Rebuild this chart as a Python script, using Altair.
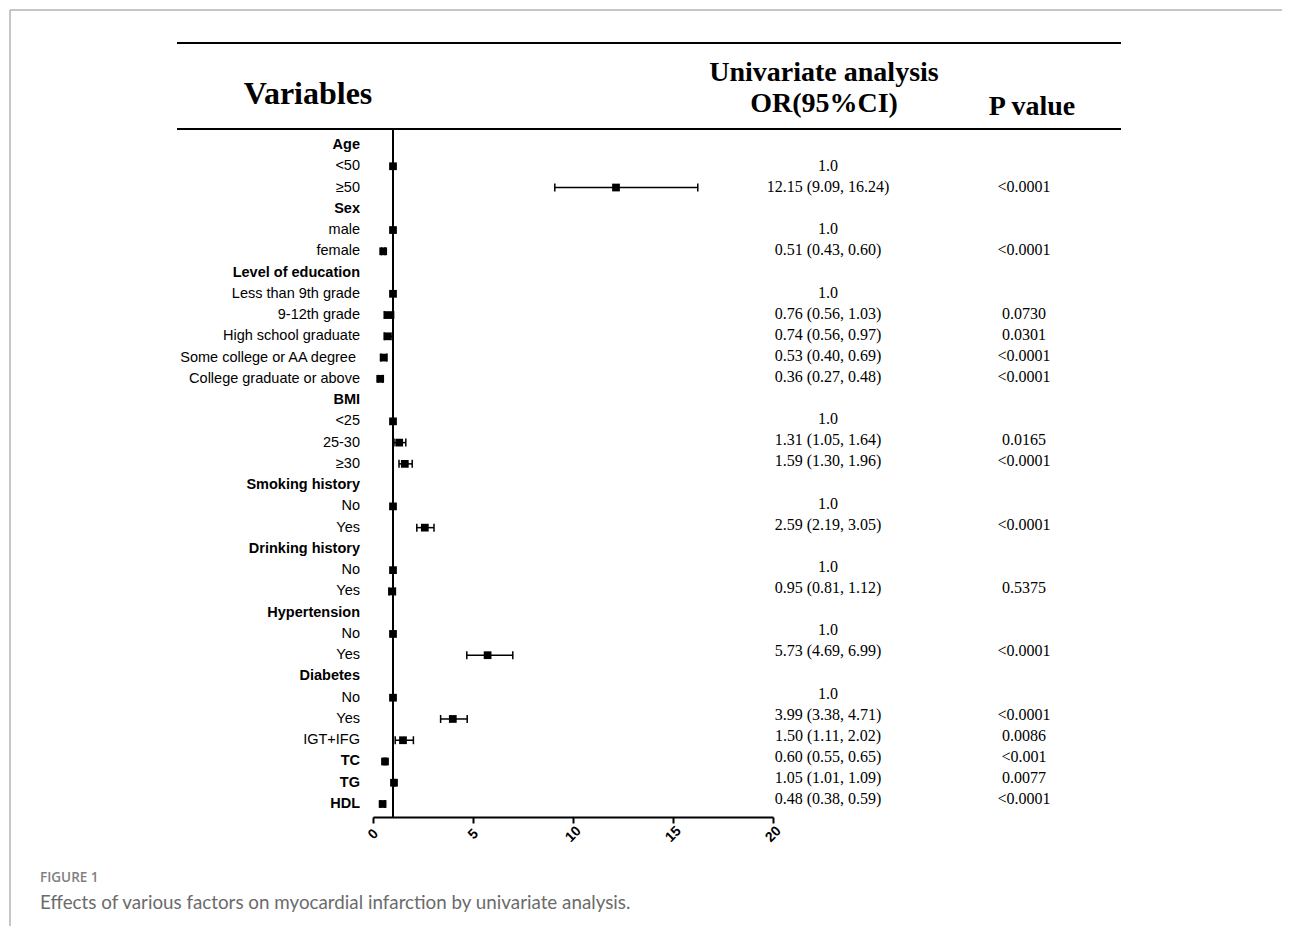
import altair as alt
import pandas as pd

# ---------------- data ----------------
labels = ["Age", "<50", "≥50", "Sex", "male", "female", "Level of education",
          "Less than 9th grade", "9-12th grade", "High school graduate",
          "Some college or AA degree", "College graduate or above",
          "BMI", "<25", "25-30", "≥30", "Smoking history", "No", "Yes",
          "Drinking history", "No", "Yes", "Hypertension", "No", "Yes",
          "Diabetes", "No", "Yes", "IGT+IFG", "TC", "TG", "HDL"]
label_shift = [0, 0, 0, 0, 0, 0, 0, 0, 0, 0, 4, 0, 0, 0, 0, 0, 0, 0, 0,
               0, 0, 0, 0, 0, 0, 0, 0, 0, 0, 0, 0, 0]
is_bold = [1, 0, 0, 1, 0, 0, 1, 0, 0, 0, 0, 0, 1, 0, 0, 0, 1, 0, 0,
           1, 0, 0, 1, 0, 0, 1, 0, 0, 0, 1, 1, 1]
or_val = [None, 1.0, 12.15, None, 1.0, 0.51, None, 1.0, 0.76, 0.74, 0.53, 0.36,
          None, 1.0, 1.31, 1.59, None, 1.0, 2.59, None, 1.0, 0.95, None, 1.0, 5.73,
          None, 1.0, 3.99, 1.50, 0.60, 1.05, 0.48]
ci_lo = [None, None, 9.09, None, None, 0.43, None, None, 0.56, 0.56, 0.40, 0.27,
         None, None, 1.05, 1.30, None, None, 2.19, None, None, 0.81, None, None, 4.69,
         None, None, 3.38, 1.11, 0.55, 1.01, 0.38]
ci_hi = [None, None, 16.24, None, None, 0.60, None, None, 1.03, 0.97, 0.69, 0.48,
         None, None, 1.64, 1.96, None, None, 3.05, None, None, 1.12, None, None, 6.99,
         None, None, 4.71, 2.02, 0.65, 1.09, 0.59]
p_text = ["", "", "<0.0001", "", "", "<0.0001", "", "", "0.0730", "0.0301",
          "<0.0001", "<0.0001", "", "", "0.0165", "<0.0001", "", "", "<0.0001",
          "", "", "0.5375", "", "", "<0.0001", "", "", "<0.0001", "0.0086",
          "<0.001", "0.0077", "<0.0001"]
x_ticks = [0, 5, 10, 15, 20]


def fmt(v, lo, hi):
    if v is None:
        return ""
    if lo is None:
        return f"{v:.1f}"
    return f"{v:.2f} ({lo:.2f}, {hi:.2f})"


or_text = [fmt(v, l, h) for v, l, h in zip(or_val, ci_lo, ci_hi)]

df = pd.DataFrame({
    "row": list(range(len(labels))),
    "label": labels,
    "shift": label_shift,
    "bold": is_bold,
    "or": or_val,
    "lo": ci_lo,
    "hi": ci_hi,
    "or_text": or_text,
    "p_text": p_text,
})

# ---------------- scales ----------------
xscale = alt.Scale(domain=[0, 20], range=[365, 765], nice=False, zero=False)
xaxis = alt.Axis(values=x_ticks, labelAngle=-45, labelAlign="center",
                 labelBaseline="middle", labelPadding=11, title=None, grid=False,
                 domainColor="black", domainWidth=2, tickColor="black",
                 tickWidth=2, tickSize=6, labelFont="Liberation Sans",
                 labelFontWeight="bold", labelFontSize=14, labelColor="black")
yscale = alt.Scale(domain=[0, 31], range=[137, 796], nice=False, zero=False)
yscale_txt = alt.Scale(domain=[0, 31], range=[137, 791], nice=False, zero=False)

base = alt.Chart(df)
one = alt.Data(values=[{}])

# frame lines
frame_top = alt.Chart(one).mark_rule(color="#b3b3b3", strokeWidth=1.5).encode(
    x=alt.value(2), x2=alt.value(1290), y=alt.value(2))
frame_left = alt.Chart(one).mark_rule(color="#b3b3b3", strokeWidth=1.5).encode(
    x=alt.value(2), y=alt.value(2), y2=alt.value(930))

# header lines
hline1 = alt.Chart(one).mark_rule(color="black", strokeWidth=2).encode(
    x=alt.value(169), x2=alt.value(1113), y=alt.value(35))
hline2 = alt.Chart(one).mark_rule(color="black", strokeWidth=2).encode(
    x=alt.value(169), x2=alt.value(1113), y=alt.value(121))


def header(txt, x, y, size):
    return alt.Chart(one).mark_text(
        text=txt, font="Liberation Serif", fontWeight="bold", fontSize=size,
        align="center", baseline="middle", color="black").encode(
        x=alt.value(x), y=alt.value(y))


h_var = header("Variables", 300, 86, 32)
h_uni = header("Univariate analysis", 816, 65, 28)
h_or = header("OR(95%CI)", 816, 96, 28)
h_p = header("P value", 1024, 99, 28)

# reference line at OR = 1
ref = alt.Chart(one).mark_rule(color="black", strokeWidth=2).encode(
    x=alt.XDatum(1, type="quantitative", scale=xscale, axis=xaxis),
    y=alt.value(122), y2=alt.value(809))

ci_data = base.transform_filter("isValid(datum.lo)")
ci_line = ci_data.mark_rule(color="black", strokeWidth=1.5).encode(
    x=alt.X("lo:Q", scale=xscale, axis=xaxis), x2="hi:Q",
    y=alt.Y("row:Q", scale=yscale, axis=None))
cap_lo = ci_data.mark_rule(color="black", strokeWidth=1.5, yOffset=-4, y2Offset=4).encode(
    x=alt.X("lo:Q", scale=xscale, axis=xaxis),
    y=alt.Y("row:Q", scale=yscale, axis=None), y2="row:Q")
cap_hi = ci_data.mark_rule(color="black", strokeWidth=1.5, yOffset=-4, y2Offset=4).encode(
    x=alt.X("hi:Q", scale=xscale, axis=xaxis),
    y=alt.Y("row:Q", scale=yscale, axis=None), y2="row:Q")
squares = base.transform_filter("isValid(datum.or)").mark_square(
    size=60, color="black", opacity=1).encode(
    x=alt.X("or:Q", scale=xscale, axis=xaxis),
    y=alt.Y("row:Q", scale=yscale, axis=None))

lab_bold = base.transform_filter("datum.bold == 1").mark_text(
    font="Liberation Sans", fontSize=14.5, fontWeight="bold", align="right",
    baseline="middle", color="black").encode(
    x=alt.value(352), y=alt.Y("row:Q", scale=yscale, axis=None), text="label:N")
lab_norm = base.transform_filter("datum.bold == 0").transform_calculate(
    lx="352 - datum.shift").mark_text(
    font="Liberation Sans", fontSize=14.5, align="right",
    baseline="middle", color="black").encode(
    x=alt.X("lx:Q", scale=None), y=alt.Y("row:Q", scale=yscale, axis=None),
    text="label:N")

or_col = base.transform_filter("datum.or_text != ''").mark_text(
    font="Liberation Serif", fontSize=16, align="center", baseline="middle",
    color="black").encode(
    x=alt.value(820), y=alt.Y("row:Q", scale=yscale_txt, axis=None), text="or_text:N")
p_col = base.transform_filter("datum.p_text != ''").mark_text(
    font="Liberation Serif", fontSize=16, align="center", baseline="middle",
    color="black").encode(
    x=alt.value(1016), y=alt.Y("row:Q", scale=yscale_txt, axis=None), text="p_text:N")

cap1 = alt.Chart(one).mark_text(
    text="FIGURE 1", font="Open Sans", fontSize=13.5, fontWeight=600,
    align="left", baseline="middle", color="#808080").encode(
    x=alt.value(32), y=alt.value(870))
cap2 = alt.Chart(one).mark_text(
    text="Effects of various factors on myocardial infarction by univariate analysis.",
    font="Lato", fontSize=18.8, align="left", baseline="middle",
    color="#6b6b6b").encode(x=alt.value(32), y=alt.value(895))

chart = alt.layer(
    frame_top, frame_left, hline1, hline2, h_var, h_uni, h_or, h_p,
    ci_line, cap_lo, cap_hi, ref, squares, lab_bold, lab_norm, or_col, p_col,
    cap1, cap2
).resolve_scale(y="independent").properties(
    width=1274, height=809,
    autosize=alt.AutoSizeParams(type="none"),
    padding={"left": 0, "top": 0, "right": 0, "bottom": 109},
).configure_view(stroke=None)

chart.save("out.html", embed_options={"renderer": "svg", "actions": False})
